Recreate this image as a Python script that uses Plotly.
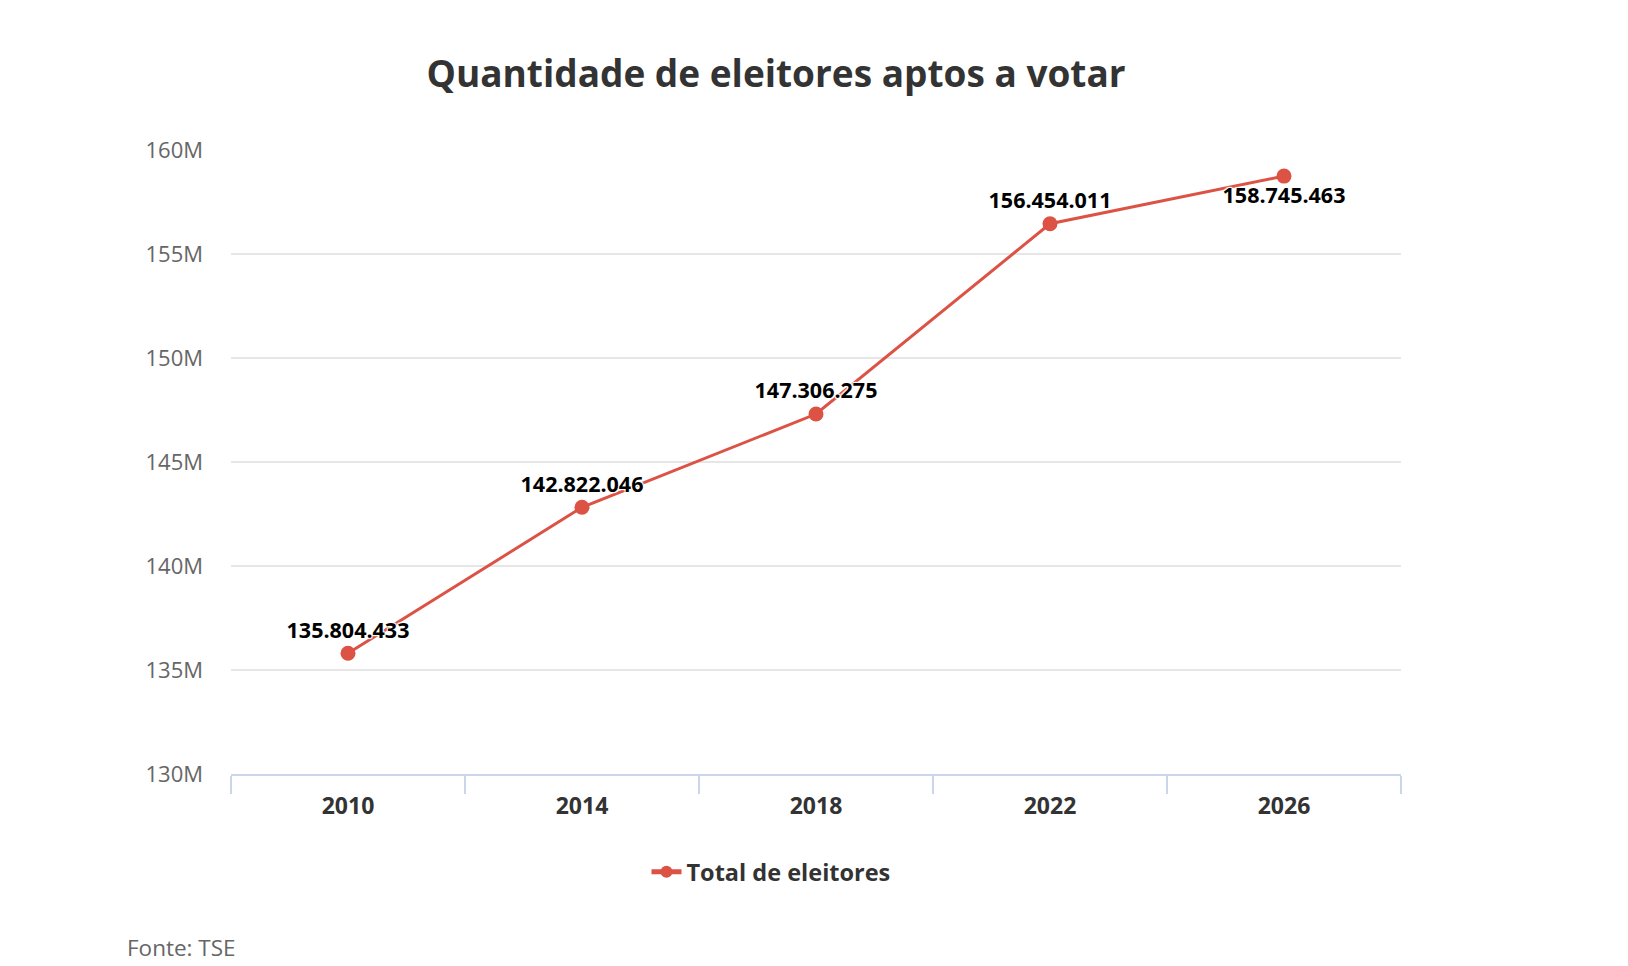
import plotly.graph_objects as go

# eleitores aptos por ano de eleicao (TSE)
anos = ['2010', '2014', '2018', '2022', '2026']
eleitores = [135804433, 142822046, 147306275, 156454011, 158745463]
posicao_rotulo = ['top center', 'top center', 'top center', 'top center', 'bottom center']
yticks = [130e6, 135e6, 140e6, 145e6, 150e6, 155e6, 160e6]
yticklabels = ['130M', '135M', '140M', '145M', '150M', '155M', '160M']

vermelho = '#dc5245'
fonte = 'Open Sans'

# area do grafico em pixels (largura 1628 x 966)
esq, dir_, topo, base = 223, 1393, 142, 766
larg, alt = dir_ - esq, base - topo

fig = go.Figure()
fig.add_trace(
    go.Scatter(
        x=anos,
        y=eleitores,
        name='Total de eleitores',
        mode='lines+markers+text',
        line=dict(color=vermelho, width=3),
        marker=dict(color=vermelho, size=15),
        texttemplate='%{y:,.0f}',
        textposition=posicao_rotulo,
        textfont=dict(family=fonte, size=21.5, color='#000000', weight='bold',
                      shadow='1px 1px 1px white, -1px -1px 1px white, 1px -1px 1px white, -1px 1px 1px white'),
        cliponaxis=False,
    )
)

fig.update_layout(
    width=1628,
    height=966,
    separators=',.',
    paper_bgcolor='white',
    plot_bgcolor='white',
    font=dict(family=fonte, color='#333333'),
    margin=dict(l=esq, r=1628 - dir_, t=topo, b=966 - base),
    title=dict(
        text='<b>Quantidade de eleitores aptos a votar</b>',
        font=dict(family=fonte, size=37, color='#333333'),
        x=768 / 1628, xanchor='center', xref='container',
        y=1 - 66 / 966, yanchor='middle', yref='container',
    ),
    xaxis=dict(
        type='category',
        range=[-0.5, 4.5],
        tickson='boundaries',
        ticks='outside',
        ticklen=18,
        tickwidth=2,
        tickcolor='#ccd6eb',
        showline=True,
        linecolor='#ccd6eb',
        linewidth=2,
        showgrid=False,
        tickfont=dict(family=fonte, size=23, color='#333333', weight='bold'),
        ticklabelstandoff=10,
    ),
    yaxis=dict(
        range=[130e6, 160e6],
        tickvals=yticks,
        ticktext=yticklabels,
        showgrid=True,
        gridcolor='#e6e6e6',
        gridwidth=1.5,
        zeroline=False,
        showline=False,
        tickfont=dict(family=fonte, size=22, color='#666666'),
        ticklabelstandoff=27,
    ),
    showlegend=True,
    legend=dict(
        orientation='h',
        x=(763 - esq) / larg, xanchor='center',
        y=(base - 864) / alt, yanchor='middle',
        font=dict(family=fonte, size=23.5, color='#333333', weight='bold'),
        itemsizing='constant',
    ),
)

fig.add_annotation(
    text='Fonte: TSE',
    xref='paper', yref='paper',
    x=(117 - esq) / larg, y=(base - 939) / alt,
    xanchor='left', yanchor='middle',
    showarrow=False,
    font=dict(family=fonte, size=22.5, color='#666666'),
)

fig.write_html('out.html')
